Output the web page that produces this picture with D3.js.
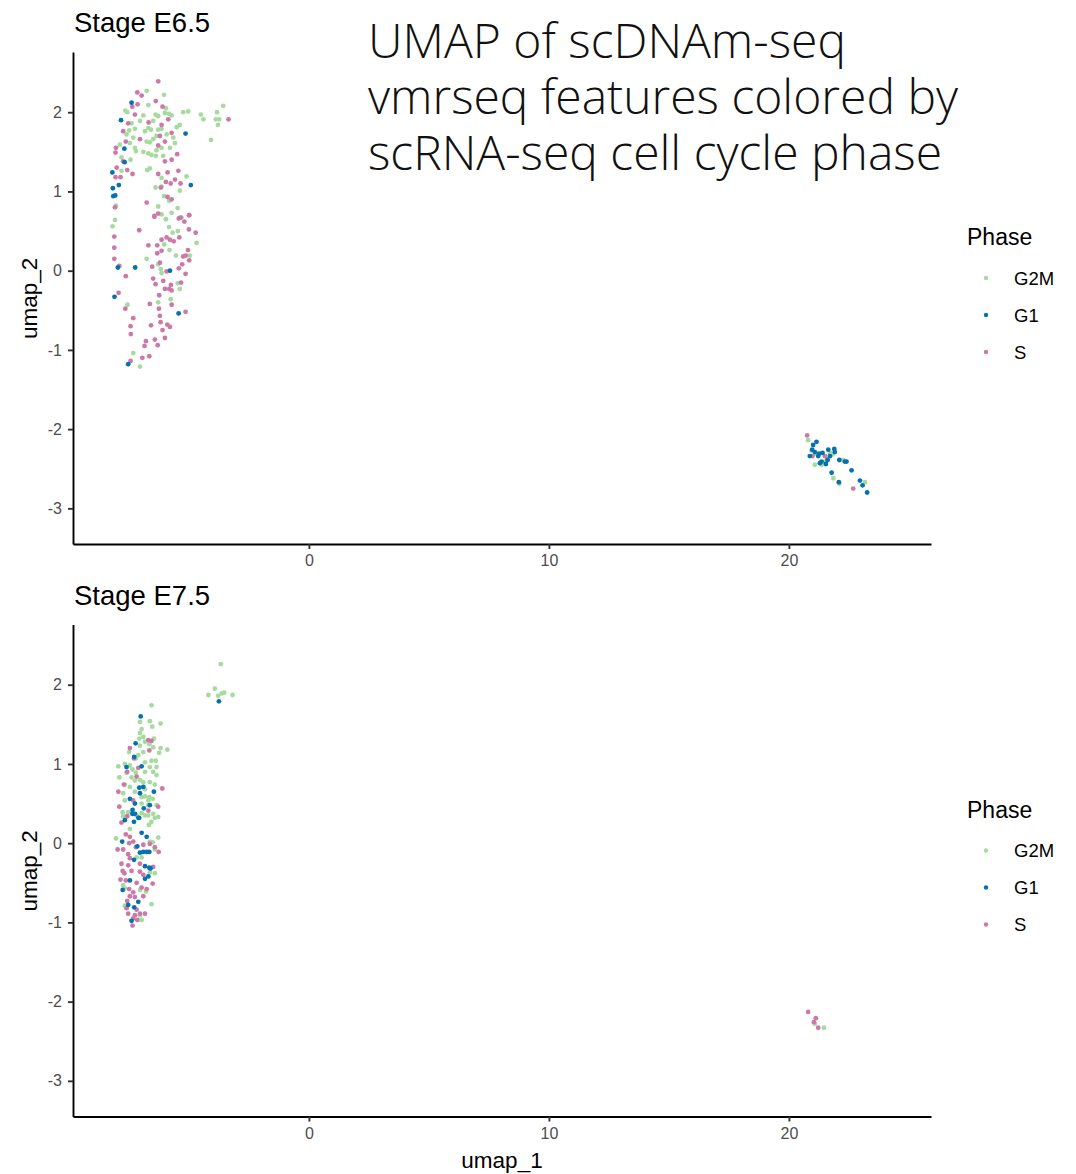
<!DOCTYPE html>
<html lang="en">
    <head>
        <meta charset="utf-8">
        <title>UMAP of scDNAm-seq by cell cycle phase</title>
        <script type="text/javascript" src="https://d3js.org/d3.v7.min.js"></script>
        <style type="text/css">
            body { margin: 0; background: white; }
            text { font-family: "Liberation Sans", Arial, sans-serif; }
            .title { font-family: "Open Sans", sans-serif; font-weight: 300; font-size: 48px; fill: #111; }
        </style>
    </head>
    <body>
        <script type="text/javascript">

        // Size of the page
        var w = 1076;
        var h = 1174;

        var phases = ["G2M", "G1", "S"];
        var xTicks = [0, 10, 20];
        var yTicks = [2, 1, 0, -1, -2, -3];
        var titleLines = ["UMAP of scDNAm-seq", "vmrseq features colored by", "scRNA-seq cell cycle phase"];

        // Stage E6.5 : [umap_1, umap_2]
        var e65_G2M = [
            [-6.04,2.22],[-6.76,2.27],[-6.69,2.09],[-5.96,2.05],[-6.00,1.99],[-5.83,1.98],[-5.72,1.96],[-6.28,1.95],
            [-6.39,1.97],[-5.24,2.00],[-5.03,2.01],[-3.57,2.08],[-4.50,1.97],[-4.40,1.91],[-3.83,2.00],[-3.88,1.91],
            [-3.74,1.91],[-3.79,1.84],[-4.08,1.65],[-7.65,2.02],[-7.57,2.00],[-6.90,1.96],[-7.04,1.89],[-6.49,1.89],
            [-6.69,1.80],[-6.83,1.76],[-6.58,1.78],[-6.28,1.78],[-6.14,1.79],[-6.35,1.70],[-6.49,1.66],[-6.76,1.63],
            [-6.63,1.62],[-7.39,1.86],[-7.25,1.79],[-7.49,1.77],[-7.60,1.72],[-7.88,1.59],[-7.32,1.68],[-7.46,1.61],
            [-5.65,1.68],[-5.58,1.61],[-5.51,1.81],[-5.38,1.84],[-5.93,1.72],[-7.25,1.55],[-7.21,1.51],[-6.90,1.50],
            [-6.69,1.48],[-6.56,1.46],[-6.35,1.52],[-6.14,1.55],[-5.79,1.55],[-6.07,1.45],[-6.38,1.45],[-7.43,1.40],
            [-7.81,1.43],[-7.81,1.26],[-6.63,1.29],[-6.74,1.27],[-6.14,1.17],[-6.39,1.05],[-6.14,1.06],[-5.10,1.19],
            [-5.38,1.01],[-6.04,0.94],[-5.82,0.88],[-6.28,0.81],[-5.47,0.79],[-8.04,0.82],[-5.96,0.65],[-8.08,0.64],
            [-8.18,0.56],[-6.14,0.71],[-5.96,0.65],[-5.72,0.73],[-5.31,0.67],[-5.83,0.55],[-5.46,0.50],[-5.68,0.48],
            [-4.68,0.35],[-6.03,0.33],[-5.81,0.26],[-5.54,0.19],[-4.96,0.19],[-6.76,0.15],[-6.28,0.08],[-6.17,0.02],
            [-6.14,-0.03],[-5.47,-0.16],[-5.38,-0.23],[-5.76,-0.36],[-6.28,-0.40],[-7.56,-0.43],[-7.32,-1.04],[-7.04,-1.21],
            [20.80,-2.14],[20.94,-2.27],[21.12,-2.31],[21.71,-2.30],[21.82,-2.32],[21.60,-2.38],[21.08,-2.45],[21.36,-2.45],
            [22.26,-2.39],[21.85,-2.62],[22.10,-2.69],[23.17,-2.67],[21.50,-2.41]
        ];
        var e65_G1 = [
            [-7.39,2.12],[-7.83,1.90],[-5.14,1.73],[-7.69,1.54],[-7.68,1.37],[-8.19,1.24],[-7.92,1.08],[-8.17,1.04],
            [-8.15,0.94],[-8.07,0.95],[-4.92,1.08],[-7.96,0.04],[-7.24,0.04],[-5.79,0.00],[-8.10,-0.33],[-5.43,-0.54],
            [-7.53,-1.18],
            [21.01,-2.20],[21.15,-2.16],[20.97,-2.26],[21.08,-2.29],[21.26,-2.31],[21.40,-2.30],[21.22,-2.34],[21.64,-2.26],
            [21.89,-2.25],[21.91,-2.29],[21.71,-2.34],[21.61,-2.39],[21.36,-2.41],[21.29,-2.43],[21.54,-2.44],[22.10,-2.39],
            [22.33,-2.41],[22.40,-2.41],[22.61,-2.52],[21.78,-2.55],[22.08,-2.67],[22.96,-2.65],[23.07,-2.71],[23.26,-2.80],
            [20.87,-2.34]
        ];
        var e65_S = [
            [-6.28,2.39],[-7.15,2.25],[-6.97,2.21],[-6.38,2.14],[-6.10,2.07],[-7.36,2.07],[-7.14,2.10],[-7.25,1.97],
            [-6.68,1.87],[-6.14,1.84],[-5.86,1.91],[-7.53,1.86],[-7.74,1.76],[-5.72,1.74],[-6.21,1.70],[-7.04,1.66],
            [-7.63,1.63],[-6.00,1.63],[-8.04,1.55],[-8.06,1.49],[-6.28,1.58],[-5.49,1.47],[-6.00,1.38],[-5.72,1.40],
            [-7.74,1.38],[-8.01,1.30],[-7.57,1.27],[-8.06,1.18],[-7.85,1.18],[-7.35,1.22],[-6.28,1.22],[-5.89,1.24],
            [-5.44,1.26],[-5.96,1.12],[-5.76,1.10],[-5.58,1.15],[-5.35,1.10],[-6.17,1.05],[-5.89,0.93],[-5.72,0.90],
            [-6.76,0.86],[-8.08,0.80],[-6.44,0.69],[-5.35,0.67],[-4.99,0.70],[-3.35,1.91],
            [-6.44,0.68],[-6.28,0.72],[-5.42,0.66],[-5.19,0.62],[-4.99,0.70],[-7.07,0.51],[-8.11,0.43],[-8.11,0.29],
            [-8.11,0.15],[-7.90,0.06],[-6.14,0.39],[-5.93,0.42],[-5.79,0.39],[-5.63,0.37],[-5.40,0.42],[-5.00,0.52],
            [-4.72,0.48],[-6.69,0.32],[-6.32,0.32],[-6.14,0.25],[-6.32,0.22],[-5.04,0.26],[-5.24,0.18],[-5.13,0.19],
            [-4.99,0.13],[-6.21,0.10],[-6.53,0.05],[-5.28,0.08],[-5.42,0.03],[-5.93,-0.01],[-5.14,-0.04],[-7.63,-0.07],
            [-6.49,-0.10],[-6.07,-0.13],[-6.39,-0.17],[-5.75,-0.18],[-5.33,-0.15],[-6.00,-0.23],[-5.82,-0.23],[-5.72,-0.25],
            [-7.93,-0.28],[-6.24,-0.31],[-5.72,-0.43],[-6.63,-0.42],[-7.65,-0.48],[-6.25,-0.48],[-5.14,-0.52],[-6.21,-0.57],
            [-7.32,-0.60],[-6.18,-0.65],[-5.90,-0.68],[-5.79,-0.71],[-6.58,-0.69],[-7.43,-0.70],[-6.10,-0.75],[-7.42,-0.80],
            [-6.00,-0.85],[-6.42,-0.87],[-6.79,-0.89],[-6.85,-0.95],[-6.30,-0.94],[-6.65,-1.08],[-6.94,-1.10],[-7.43,-1.14],
            [20.76,-2.08],[20.98,-2.34],[21.50,-2.34],[22.68,-2.75]
        ];

        // Stage E7.5 : [umap_1, umap_2]
        var e75_G2M = [
            [-6.56,1.74],[-7.04,1.53],[-6.63,1.54],[-6.18,1.51],[-6.53,1.47],[-6.97,1.44],[-7.04,1.39],[-6.90,1.34],
            [-7.07,1.32],[-6.46,1.32],[-6.83,1.28],[-6.65,1.25],[-7.04,1.23],[-6.49,1.21],[-6.18,1.20],[-5.90,1.18],
            [-7.49,1.15],[-6.90,1.15],[-7.11,1.11],[-6.24,1.14],[-7.21,1.07],[-6.56,1.04],[-6.38,1.04],[-6.83,1.02],
            [-7.67,1.00],[-7.94,0.97],[-7.46,0.98],[-6.63,0.96],[-6.35,0.96],[-7.35,0.93],[-7.21,0.89],[-7.60,0.89],
            [-6.83,0.90],[-6.49,0.90],[-6.35,0.86],[-7.39,0.83],[-7.90,0.83],[-7.04,0.80],[-7.25,0.79],[-6.90,0.77],
            [-6.63,0.77],[-7.67,0.74],[-7.46,0.71],[-6.83,0.68],[-6.42,0.74],[-7.74,0.63],[-7.25,0.65],[-6.97,0.58],
            [-6.83,0.59],[-6.65,0.58],[-6.51,0.56],[-6.69,0.54],[-7.67,0.54],[-6.97,0.50],[-6.69,0.48],[-6.35,0.48],
            [-7.76,0.39],[-7.18,0.35],[-6.83,0.35],[-6.49,0.37],[-6.28,0.33],
            [-7.74,0.34],[-7.53,0.39],[-6.97,0.38],[-6.69,0.35],[-6.42,0.32],[-6.56,0.27],[-6.67,0.23],[-7.46,0.18],
            [-8.04,0.06],[-6.63,0.02],[-6.51,0.01],[-6.28,0.07],[-6.42,-0.08],[-7.18,-0.18],[-6.97,-0.18],[-6.63,-0.37],
            [-6.42,-0.38],[-7.74,-0.53],[-7.67,-0.57],[-7.04,-0.59],[-6.79,-0.61],[-6.56,-0.77],[-7.67,-0.79],[-6.97,-0.97],
            [-7.04,-0.91],
            [-3.67,2.26],[-3.92,1.95],[-4.19,1.87],[-3.78,1.86],[-3.64,1.89],[-3.53,1.90],[-3.18,1.87],
            [21.08,-2.28],[21.46,-2.33]
        ];
        var e75_G1 = [
            [-7.01,1.60],[-7.22,1.26],[-7.28,1.09],[-6.97,0.97],[-7.60,0.96],[-7.07,0.70],[-6.90,0.71],[-6.46,0.65],
            [-7.04,0.63],[-7.46,0.56],[-7.25,0.50],[-6.88,0.44],[-6.63,0.48],[-7.35,0.42],[-7.25,0.37],[-7.07,0.32],
            [-7.36,0.37],[-7.67,0.29],[-7.29,0.27],[-7.11,0.32],[-7.78,0.02],[-6.97,0.13],[-6.76,0.08],[-7.15,-0.04],
            [-6.90,-0.11],[-7.04,-0.12],[-6.76,-0.11],[-6.65,-0.11],[-7.29,-0.21],[-6.83,-0.29],[-6.65,-0.31],[-6.60,-0.32],
            [-6.83,-0.45],[-6.69,-0.42],[-7.46,-0.47],[-7.76,-0.59],[-7.11,-0.74],[-7.53,-0.78],[-7.28,-0.81],[-7.39,-0.98],
            [-3.75,1.79]
        ];
        var e75_S = [
            [-7.46,1.20],[-6.69,1.30],[-6.56,1.29],[-6.65,1.17],[-7.29,1.07],[-7.57,0.90],[-7.11,0.95],[-7.18,0.84],
            [-7.71,0.74],[-7.94,0.65],[-6.11,0.69],[-7.32,0.54],[-7.90,0.46],[-6.28,0.46],[-7.57,0.34],[-6.69,0.41],
            [-7.81,0.26],[-7.63,0.11],[-7.46,0.08],[-7.32,0.02],[-7.49,0.00],[-7.97,-0.08],[-7.74,-0.08],[-7.21,-0.05],
            [-6.90,-0.02],[-6.63,-0.01],[-6.42,-0.05],[-6.26,-0.11],[-7.53,-0.14],[-7.46,-0.19],[-7.81,-0.26],[-7.53,-0.28],
            [-7.04,-0.26],[-7.76,-0.35],[-7.69,-0.38],[-7.39,-0.35],[-7.04,-0.36],[-6.49,-0.30],[-6.90,-0.40],[-7.85,-0.46],
            [-7.63,-0.47],[-7.18,-0.50],[-6.51,-0.51],[-7.49,-0.58],[-6.97,-0.56],[-6.76,-0.58],[-7.32,-0.62],[-6.90,-0.67],
            [-7.57,-0.73],[-7.46,-0.67],[-7.25,-0.68],[-7.60,-0.82],[-7.18,-0.84],[-7.53,-0.89],[-7.25,-0.91],[-7.04,-0.89],
            [-6.83,-0.89],[-7.32,-0.95],[-7.15,-0.97],[-7.35,-1.04],
            [20.80,-2.13],[21.12,-2.21],[21.04,-2.26],[21.22,-2.33]
        ];

        var stages = [
            { name: "Stage E6.5", G2M: e65_G2M, G1: e65_G1, S: e65_S },
            { name: "Stage E7.5", G2M: e75_G2M, G1: e75_G1, S: e75_S }
        ];

        // Colores por fase
        var color = d3.scaleOrdinal()
                      .domain(phases)
                      .range(["#a6dba0", "#0571b0", "#cc79a7"]);

        var svg = d3.select("body")
                    .append("svg")
                    .attr("width", w)
                    .attr("height", h);

        // Shared scales (each panel is moved down with a transform)
        var x = d3.scaleLinear().domain([-9.83, 25.92]).range([73, 931]);
        var y = d3.scaleLinear().domain([-3.45, 2.76]).range([544, 52]);

        var fmt = function(d) { return String(d); };

        stages.forEach(function(stage, k) {
            var g = svg.append("g")
                       .attr("transform", "translate(0," + (k * 572.5) + ")");

            g.append("text")
             .attr("x", 74)
             .attr("y", 32)
             .style("font-size", "27.5px")
             .text(stage.name);

            // Puntos: G2M abajo, luego S, luego G1
            ["G2M", "S", "G1"].forEach(function(p) {
                g.append("g").selectAll("circle")
                 .data(stage[p])
                 .enter()
                 .append("circle")
                 .attr("cx", function(d) { return x(d[0]); })
                 .attr("cy", function(d) { return y(d[1]); })
                 .attr("r", 2.4)
                 .attr("fill", color(p));
            });

            // Ejes
            var xAxis = g.append("g")
                         .attr("transform", "translate(0,544)")
                         .call(d3.axisBottom(x).tickValues(xTicks).tickFormat(fmt)
                                 .tickSizeInner(5).tickSizeOuter(0).tickPadding(6));
            var yAxis = g.append("g")
                         .attr("transform", "translate(73,0)")
                         .call(d3.axisLeft(y).tickValues(yTicks).tickFormat(fmt)
                                 .tickSizeInner(5).tickSizeOuter(0).tickPadding(6));
            [xAxis, yAxis].forEach(function(a) {
                a.select(".domain").attr("stroke", "black").attr("stroke-width", 1.9);
                a.selectAll(".tick line").attr("stroke", "#333").attr("stroke-width", 1.9);
                a.selectAll(".tick text")
                 .attr("fill", "#4d4d4d")
                 .style("font-family", "'Liberation Sans', Arial, sans-serif")
                 .style("font-size", "16px");
            });

            g.append("text")
             .attr("transform", "translate(37," + y(-0.35) + ") rotate(-90)")
             .attr("text-anchor", "middle")
             .style("font-size", "22.5px")
             .text("umap_2");

            // Leyenda
            var leg = g.append("g").attr("transform", "translate(967,0)");
            leg.append("text")
               .attr("y", 245)
               .style("font-size", "23px")
               .text("Phase");
            phases.forEach(function(p, i) {
                leg.append("circle")
                   .attr("cx", 19)
                   .attr("cy", 278 + i * 37)
                   .attr("r", 2.2)
                   .attr("fill", color(p));
                leg.append("text")
                   .attr("x", 47)
                   .attr("y", 278 + i * 37 + 6.5)
                   .style("font-size", "18.5px")
                   .text(p);
            });
        });

        svg.append("text")
           .attr("x", 502)
           .attr("y", 1168)
           .attr("text-anchor", "middle")
           .style("font-size", "22.5px")
           .text("umap_1");

        // Titulo
        svg.append("g").selectAll("text")
           .data(titleLines)
           .enter()
           .append("text")
           .attr("class", "title")
           .attr("x", 368)
           .attr("y", function(d, i) { return 58 + i * 56; })
           .text(function(d) { return d; });

        </script>
    </body>
</html>
